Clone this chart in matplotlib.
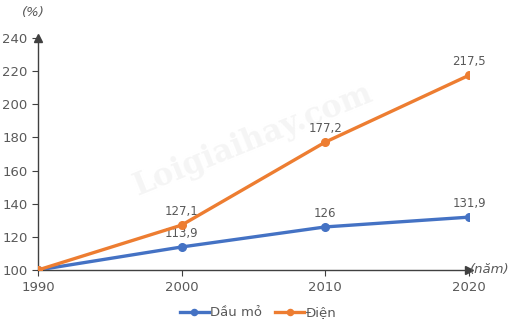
import matplotlib.pyplot as plt

years = [1990, 2000, 2010, 2020]
dau_mo = [100, 113.9, 126, 131.9]
dien = [100, 127.1, 177.2, 217.5]
dau_mo_labels = ["", "113,9", "126", "131,9"]
dien_labels = ["", "127,1", "177,2", "217,5"]
yticks = [100, 120, 140, 160, 180, 200, 220, 240]

BLUE = '#4472C4'
ORANGE = '#ED7D31'
TXT = '#595959'
AX = '#404040'

fig = plt.figure(figsize=(5.14, 3.30), dpi=100)
ax = fig.add_axes([38 / 514, 60 / 330, 431 / 514, 232 / 330])

# faint site watermark behind the lines
ax.text(0.5, 0.56, "Loigiaihay.com", transform=ax.transAxes, rotation=22,
        ha='center', va='center', fontsize=22, fontweight='bold',
        family='DejaVu Serif', color='#f5f5f5', zorder=0)

ax.plot(years, dau_mo, color=BLUE, lw=2.4, marker='o', ms=5.5, label='Dầu mỏ', zorder=3)
ax.plot(years, dien, color=ORANGE, lw=2.4, marker='o', ms=5.5, label='Điện', zorder=4)

for x, y, s in zip(years, dau_mo, dau_mo_labels):
    if s:
        ax.annotate(s, (x, y), xytext=(0, 5), textcoords='offset points',
                    ha='center', va='bottom', fontsize=8.5, color=TXT)
for x, y, s in zip(years, dien, dien_labels):
    if s:
        ax.annotate(s, (x, y), xytext=(0, 5), textcoords='offset points',
                    ha='center', va='bottom', fontsize=8.5, color=TXT)

ax.set_xlim(1990, 2020)
ax.set_ylim(100, 240)
ax.set_xticks(years)
ax.set_yticks(yticks)
ax.tick_params(axis='both', labelsize=9.5, labelcolor=TXT, color=AX, length=4, width=0.8)
ax.tick_params(axis='x', pad=4)

for side in ['top', 'right']:
    ax.spines[side].set_visible(False)
for side in ['left', 'bottom']:
    ax.spines[side].set_color(AX)
    ax.spines[side].set_linewidth(1)

# arrowheads on the axes
ax.plot(0, 1, marker='^', color=AX, ms=6, transform=ax.transAxes, clip_on=False)
ax.plot(1, 0, marker='>', color=AX, ms=6, transform=ax.transAxes, clip_on=False)

ax.text(-0.01, 1.108, "(%)", transform=ax.transAxes, ha='center', va='center',
        fontsize=9.5, style='italic', color=TXT)
ax.text(1.003, 0.0, "(năm)", transform=ax.transAxes, ha='left', va='center',
        fontsize=9.5, style='italic', color=TXT)

ax.legend(loc='center', bbox_to_anchor=(258 / 514, 17 / 330), bbox_transform=fig.transFigure,
          ncol=2, frameon=False, fontsize=9.5, labelcolor=TXT, handlelength=2.2,
          handletextpad=0.1, columnspacing=1.0, markerscale=0.8)

fig.savefig('out.png', dpi=100)
